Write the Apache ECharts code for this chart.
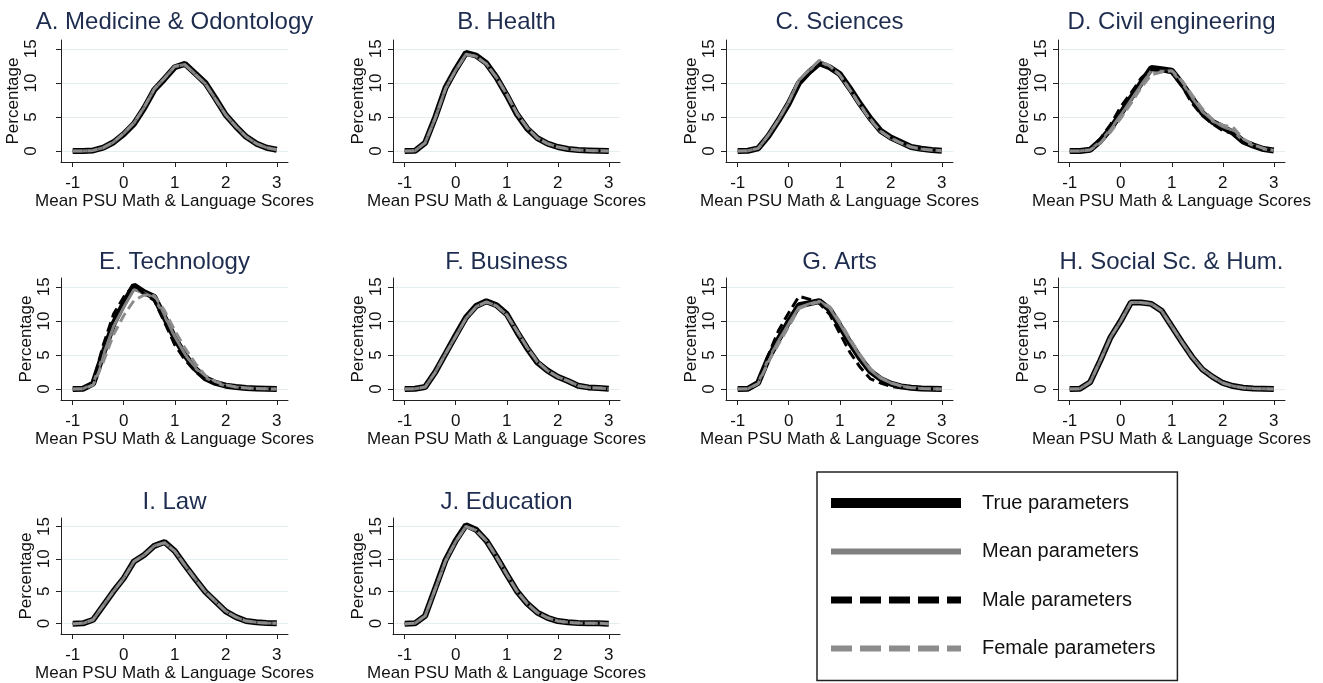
<!DOCTYPE html>
<html><head><meta charset="utf-8">
<script src="https://cdn.jsdelivr.net/npm/echarts@6/dist/echarts.min.js"></script>
<style>html,body{margin:0;padding:0;background:#fff}#c{width:1323px;height:683px}</style>
</head><body><div id="c"></div>
<script>
// ---------- data ----------
const xs = [-1,-0.8,-0.6,-0.4,-0.2,0,0.2,0.4,0.6,0.8,1,1.2,1.4,1.6,1.8,2,2.2,2.4,2.6,2.8,3];
const titles = ['A. Medicine & Odontology','B. Health','C. Sciences','D. Civil engineering',
  'E. Technology','F. Business','G. Arts','H. Social Sc. & Hum.','I. Law','J. Education'];
const xTicks = [-1,0,1,2,3];
const yTicks = [0,5,10,15];
const seriesNames = ['True parameters','Mean parameters','Male parameters','Female parameters'];
const xTitle = 'Mean PSU Math & Language Scores';
const yTitle = 'Percentage';

const medTrue   = [0,0,0.1,0.5,1.3,2.5,4.0,6.3,9.0,10.6,12.3,12.8,11.4,10.0,7.7,5.3,3.6,2.1,1.1,0.5,0.2];
const medMean   = [0,0,0.1,0.5,1.3,2.6,4.1,6.4,9.1,10.7,12.4,12.7,11.3,9.9,7.6,5.3,3.6,2.1,1.1,0.5,0.2];
const medMale   = [0,0,0.1,0.5,1.3,2.5,4.0,6.3,9.0,10.6,12.2,12.8,11.4,10.0,7.7,5.3,3.6,2.1,1.1,0.5,0.2];
const medFemale = [0,0,0.1,0.5,1.3,2.6,4.1,6.4,9.1,10.7,12.4,12.7,11.3,9.9,7.6,5.3,3.6,2.1,1.1,0.5,0.2];

const heaTrue   = [0,0.05,1.2,5.0,9.3,12.0,14.4,14.0,12.9,10.8,8.2,5.4,3.3,1.9,1.1,0.6,0.3,0.15,0.1,0.05,0];
const heaMean   = [0,0.05,1.2,4.9,9.2,11.9,14.2,13.9,12.8,10.8,8.3,5.5,3.4,1.9,1.1,0.6,0.3,0.15,0.1,0.05,0];
const heaMale   = [0,0.05,1.2,5.0,9.3,12.0,14.4,14.0,12.9,10.8,8.2,5.4,3.3,1.9,1.1,0.6,0.3,0.15,0.1,0.05,0];
const heaFemale = [0,0.05,1.2,4.9,9.2,11.9,14.2,13.9,12.8,10.8,8.3,5.5,3.4,1.9,1.1,0.6,0.3,0.15,0.1,0.05,0];

const sciTrue   = [0,0.05,0.4,2.2,4.5,7.0,10.0,11.6,12.9,12.3,11.3,9.2,6.9,4.8,3.0,2.0,1.3,0.6,0.35,0.15,0.05];
const sciMean   = [0,0.05,0.4,2.3,4.6,7.2,10.4,11.8,13.2,12.4,11.2,9.0,6.8,4.7,2.9,1.9,1.2,0.6,0.3,0.15,0.05];
const sciMale   = [0,0.05,0.4,2.2,4.5,7.1,10.2,11.7,13.0,12.3,11.3,9.1,6.9,4.8,3.0,2.0,1.3,0.6,0.35,0.15,0.05];
const sciFemale = [0,0.05,0.4,2.3,4.6,7.2,10.4,11.9,13.3,12.5,11.2,9.0,6.7,4.6,2.9,1.9,1.2,0.6,0.3,0.15,0.05];

const civTrue   = [0,0,0.2,1.5,3.3,5.5,7.8,10.0,12.2,12.0,11.8,9.9,7.7,5.6,4.3,3.5,2.7,1.4,0.8,0.3,0.1];
const civMean   = [0,0,0.2,1.4,3.2,5.3,7.5,9.7,11.8,11.7,11.7,10.0,7.8,5.8,4.4,3.6,3.0,1.5,0.8,0.3,0.1];
const civMale   = [0,0,0.3,1.8,3.9,6.5,8.5,10.7,12.0,11.8,11.5,9.5,7.0,5.2,4.0,3.0,2.6,1.3,0.7,0.3,0.1];
const civFemale = [0,0,0.2,1.2,2.8,4.8,7.0,9.3,11.2,11.6,11.8,10.3,8.2,6.2,4.6,3.8,3.5,1.8,0.9,0.4,0.1];

const tecTrue   = [0,0.05,0.8,5.3,9.6,12.6,15.2,14.2,13.5,10.5,7.5,5.0,3.0,1.6,0.9,0.5,0.3,0.15,0.1,0.05,0];
const tecMean   = [0,0.05,0.8,5.0,9.2,12.0,14.6,14.1,13.4,10.7,7.7,5.1,3.1,1.7,0.9,0.5,0.3,0.15,0.1,0.05,0];
const tecMale   = [0,0.05,1.0,6.5,11.0,13.5,15.3,14.0,13.0,9.8,6.5,4.3,2.6,1.4,0.8,0.4,0.2,0.1,0.05,0.05,0];
const tecFemale = [0,0.05,0.6,4.0,8.0,10.8,13.0,13.8,13.7,11.5,8.6,6.0,3.8,2.0,1.1,0.6,0.3,0.15,0.1,0.05,0];

const busTrue   = [0,0.05,0.3,2.5,5.2,7.9,10.5,12.2,12.9,12.3,11.0,8.4,6.0,3.9,2.7,1.8,1.2,0.5,0.25,0.15,0.05];
const busMean   = [0,0.05,0.3,2.5,5.2,7.8,10.4,12.1,12.8,12.2,10.9,8.5,6.1,4.0,2.7,1.8,1.2,0.5,0.25,0.15,0.05];
const busMale   = [0,0.05,0.3,2.5,5.2,7.9,10.5,12.2,12.9,12.3,11.0,8.4,6.0,3.9,2.7,1.8,1.2,0.5,0.25,0.15,0.05];
const busFemale = [0,0.05,0.3,2.5,5.2,7.8,10.4,12.1,12.8,12.2,10.9,8.5,6.1,4.0,2.7,1.8,1.2,0.5,0.25,0.15,0.05];

const artTrue   = [0,0.05,0.9,4.5,7.3,9.9,12.3,12.6,12.9,11.7,9.3,6.8,4.5,2.6,1.5,0.8,0.4,0.2,0.1,0.05,0];
const artMean   = [0,0.05,0.9,4.4,7.1,9.6,12.0,12.5,12.9,11.9,9.6,7.1,4.8,2.8,1.6,0.9,0.45,0.2,0.1,0.05,0];
const artMale   = [0,0.05,1.1,5.0,8.6,11.2,13.6,13.2,12.6,11.0,8.2,5.4,3.2,1.5,0.9,0.4,0.2,0.1,0.05,0.05,0];
const artFemale = [0,0.05,0.8,4.0,6.6,9.2,11.8,12.4,12.8,12.1,9.9,7.4,5.0,3.0,1.7,0.9,0.45,0.2,0.1,0.05,0];

const socTrue   = [0,0.05,1.0,4.2,7.6,10.0,12.7,12.7,12.5,11.5,9.2,6.9,4.7,2.9,1.8,0.9,0.45,0.2,0.1,0.05,0];
const socMean   = [0,0.05,1.0,4.2,7.6,10.0,12.7,12.7,12.5,11.5,9.2,6.9,4.7,2.9,1.8,0.9,0.45,0.2,0.1,0.05,0];
const socMale   = [0,0.05,1.0,4.2,7.6,10.0,12.7,12.7,12.5,11.5,9.2,6.9,4.7,2.9,1.8,0.9,0.45,0.2,0.1,0.05,0];
const socFemale = [0,0.05,1.0,4.2,7.6,10.0,12.7,12.7,12.5,11.5,9.2,6.9,4.7,2.9,1.8,0.9,0.45,0.2,0.1,0.05,0];

const lawTrue   = [0,0.05,0.6,2.8,5.0,7.0,9.6,10.6,12.0,12.6,11.2,9.0,6.9,4.9,3.4,1.9,1.0,0.4,0.2,0.1,0.05];
const lawMean   = [0,0.05,0.6,2.8,5.0,7.0,9.6,10.6,12.0,12.5,11.2,9.0,6.9,4.9,3.4,1.9,1.0,0.4,0.2,0.1,0.05];
const lawMale   = [0,0.05,0.6,2.8,5.0,7.0,9.6,10.6,12.0,12.6,11.2,9.0,6.9,4.9,3.4,1.9,1.0,0.4,0.2,0.1,0.05];
const lawFemale = [0,0.05,0.6,2.8,5.0,7.0,9.6,10.6,12.0,12.5,11.2,9.0,6.9,4.9,3.4,1.9,1.0,0.4,0.2,0.1,0.05];

const eduTrue   = [0,0.05,1.2,5.5,9.8,12.8,15.2,14.5,12.8,10.3,7.6,5.0,3.1,1.7,0.9,0.4,0.2,0.1,0.05,0.05,0];
const eduMean   = [0,0.05,1.2,5.4,9.7,12.7,15.0,14.4,12.8,10.3,7.6,5.0,3.1,1.7,0.9,0.4,0.2,0.1,0.05,0.05,0];
const eduMale   = [0,0.05,1.2,5.5,9.8,12.8,15.2,14.5,12.8,10.3,7.6,5.0,3.1,1.7,0.9,0.4,0.2,0.1,0.05,0.05,0];
const eduFemale = [0,0.05,1.2,5.4,9.7,12.7,15.0,14.4,12.8,10.3,7.6,5.0,3.1,1.7,0.9,0.4,0.2,0.1,0.05,0.05,0];

const panels = [
  [medTrue, medMean, medMale, medFemale],
  [heaTrue, heaMean, heaMale, heaFemale],
  [sciTrue, sciMean, sciMale, sciFemale],
  [civTrue, civMean, civMale, civFemale],
  [tecTrue, tecMean, tecMale, tecFemale],
  [busTrue, busMean, busMale, busFemale],
  [artTrue, artMean, artMale, artFemale],
  [socTrue, socMean, socMale, socFemale],
  [lawTrue, lawMean, lawMale, lawFemale],
  [eduTrue, eduMean, eduMale, eduFemale]
];

// ---------- layout & style ----------
const FONT = '"Liberation Sans", Arial, sans-serif';
const colLeft = [61, 393, 726, 1058];
const rowTop = [40, 278, 518];
const GW = 227, GH = 122;
const titleY = [22, 262, 502];
const lineStyles = [
  {color:'#000000', width:6, type:'solid'},
  {color:'#808080', width:3, type:'solid'},
  {color:'#000000', width:3, type:[10,5]},
  {color:'#8c8c8c', width:3, type:[10,5]}
];
const legendLineStyles = [
  {color:'#000000', width:10, type:'solid'},
  {color:'#808080', width:6, type:'solid'},
  {color:'#000000', width:7, type:[21,8]},
  {color:'#8c8c8c', width:6, type:[21,8]}
];

const grid = [], xAxis = [], yAxis = [], series = [], graphics = [];
panels.forEach((p, i) => {
  const col = i % 4, row = Math.floor(i / 4);
  grid.push({left: colLeft[col], top: rowTop[row], width: GW, height: GH, containLabel: false});
  xAxis.push({
    gridIndex: i, type: 'value', min: -1.23, max: 3.22,
    name: xTitle, nameLocation: 'middle', nameGap: 31,
    nameTextStyle: {fontSize: 17, color: '#111', fontFamily: FONT},
    axisLine: {show: true, onZero: false, lineStyle: {color: '#222', width: 1}},
    axisTick: {show: true, length: 5, customValues: xTicks, lineStyle: {color: '#222'}},
    axisLabel: {customValues: xTicks, margin: 13, fontSize: 17, color: '#111', fontFamily: FONT},
    splitLine: {show: false}
  });
  const isA = (i === 0);
  yAxis.push({
    gridIndex: i, type: 'value', min: -1.6, max: 16.3,
    name: yTitle, nameLocation: 'middle', nameGap: isA ? 38 : 26, nameRotate: 90,
    nameTextStyle: {fontSize: 17, color: '#111', fontFamily: FONT},
    axisLine: {show: true, onZero: false, lineStyle: {color: '#222', width: 1}},
    axisTick: {show: true, length: 5, customValues: yTicks, lineStyle: {color: '#222'}},
    axisLabel: {customValues: yTicks, rotate: 90, margin: isA ? 21 : 8, fontSize: 17, color: '#111', fontFamily: FONT},
    splitLine: {show: true, lineStyle: {color: '#e4edf0', width: 1}}
  });
  p.forEach((arr, s) => {
    series.push({
      name: seriesNames[s], type: 'line', xAxisIndex: i, yAxisIndex: i,
      symbol: 'none', silent: true, animation: false,
      itemStyle: {color: lineStyles[s].color},
      lineStyle: lineStyles[s], z: 2 + s,
      data: xs.map((x, k) => [x, arr[k]])
    });
  });
  graphics.push({
    type: 'text', x: colLeft[col] + GW / 2, y: titleY[row],
    style: {text: titles[i], font: '24px ' + FONT, fill: '#1e2d4f',
      align: 'center', verticalAlign: 'middle', textAlign: 'center', textVerticalAlign: 'middle'}
  });
});

const chart = echarts.init(document.getElementById('c'), null, {renderer: 'canvas'});
chart.setOption({
  backgroundColor: '#ffffff',
  animation: false,
  textStyle: {fontFamily: FONT},
  grid, xAxis, yAxis, series,
  graphic: graphics,
  legend: {
    orient: 'vertical', left: 817, top: 472,
    padding: [21, 22, 22, 9],
    borderColor: '#222', borderWidth: 1.5, backgroundColor: '#fff',
    itemWidth: 130, itemHeight: 20, itemGap: 28.5,
    selectedMode: false,
    textStyle: {fontSize: 20, color: '#111', fontFamily: FONT, padding: [0, 0, 0, 16]},
    data: seriesNames.map((n, s) => ({name: n, lineStyle: legendLineStyles[s], itemStyle: {opacity: 0}}))
  }
});
</script>
</body></html>
